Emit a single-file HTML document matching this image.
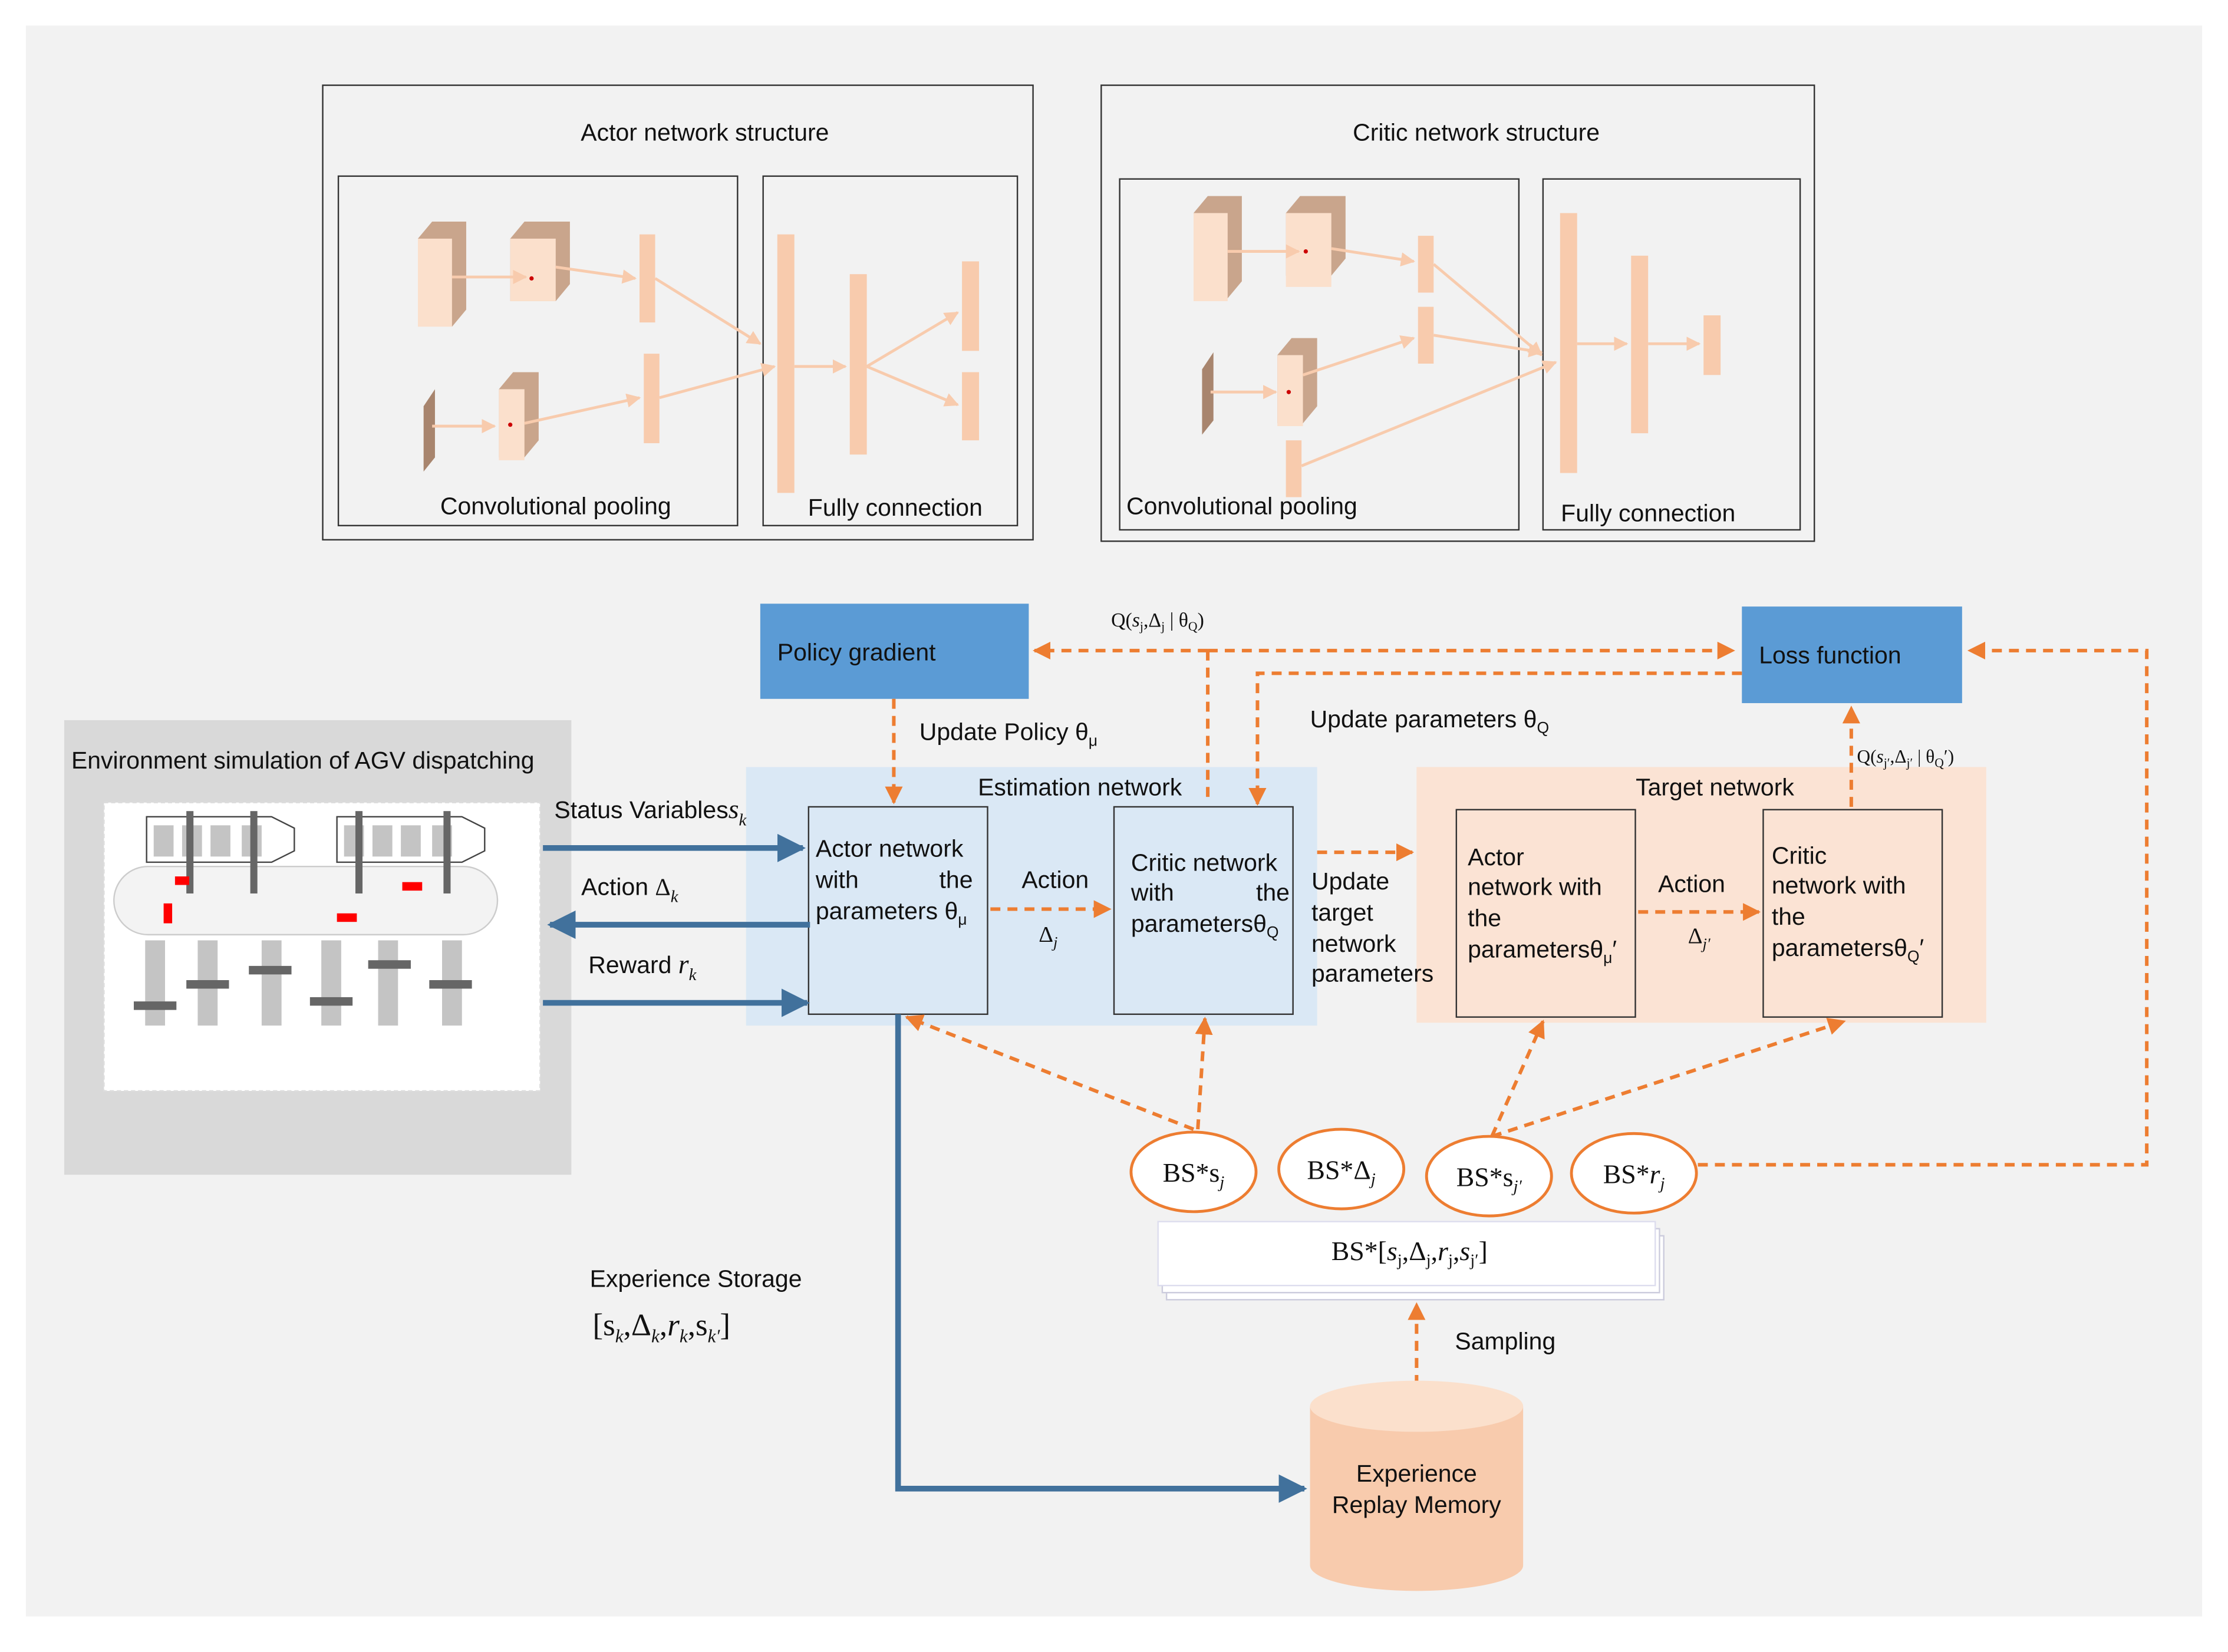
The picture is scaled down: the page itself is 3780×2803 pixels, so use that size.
<!DOCTYPE html>
<html><head><meta charset="utf-8"><style>
html,body{margin:0;padding:0;background:#fff;}
svg{display:block;}
text{font-family:"Liberation Sans",sans-serif;fill:#111;}
.s{font-family:"Liberation Serif",serif;}
</style></head><body>
<svg width="3780" height="2803" viewBox="0 0 1568 1163" xmlns="http://www.w3.org/2000/svg">
<defs>
<marker id="oa" viewBox="0 0 10 10" refX="9" refY="5" markerWidth="5" markerHeight="5" orient="auto"><path d="M0,0L10,5L0,10z" fill="#ed7d31"/></marker>
<marker id="ba" viewBox="0 0 10 10" refX="9" refY="5" markerWidth="5" markerHeight="5" orient="auto"><path d="M0,0L10,5L0,10z" fill="#41719c"/></marker>
<marker id="pa" viewBox="0 0 10 10" refX="9" refY="5" markerWidth="5" markerHeight="5" orient="auto"><path d="M0,0L10,5L0,10z" fill="#f8cbad"/></marker>
</defs>
<rect x="0" y="0" width="1568" height="1163" fill="#fff"/>
<rect x="18" y="18" width="1532" height="1120" fill="#f2f2f2"/>

<g fill="none" stroke="#333" stroke-width="1">
<rect x="227" y="60" width="500" height="320"/>
<rect x="238" y="124" width="281" height="246"/>
<rect x="537" y="124" width="179" height="246"/>
<rect x="775" y="60" width="502" height="321"/>
<rect x="788" y="126" width="281" height="247"/>
<rect x="1086" y="126" width="181" height="247"/>
</g>
<text x="496" y="99" font-size="17" text-anchor="middle">Actor network structure</text>
<text x="1039" y="99" font-size="17" text-anchor="middle">Critic network structure</text>
<text x="391" y="362" font-size="17" text-anchor="middle">Convolutional pooling</text>
<text x="630" y="363" font-size="17" text-anchor="middle">Fully connection</text>
<text x="874" y="362" font-size="17" text-anchor="middle">Convolutional pooling</text>
<text x="1160" y="367" font-size="17" text-anchor="middle">Fully connection</text>

<g fill="#fbe0cc">
<path d="M294,168 l10,-12 h24 v62 l-10,12z" fill="#c9a58c"/><rect x="294" y="168" width="24" height="62"/>
<path d="M359,168 l10,-12 h32 v44 l-10,12 h-32z" fill="#c9a58c"/><rect x="359" y="168" width="32" height="44"/>
<rect x="450" y="165" width="11" height="62" fill="#f8cbad"/>
<path d="M298,286 l8,-12 v48 l-8,10z" fill="#a8856e"/>
<path d="M351,274 l10,-12 h18 v48 l-10,12 h-18z" fill="#c9a58c"/><rect x="351" y="274" width="18" height="50"/>
<rect x="453" y="249" width="11" height="63" fill="#f8cbad"/>
<rect x="547" y="165" width="12" height="182" fill="#f8cbad"/>
<rect x="598" y="193" width="12" height="127" fill="#f8cbad"/>
<rect x="677" y="184" width="12" height="63" fill="#f8cbad"/>
<rect x="677" y="262" width="12" height="48" fill="#f8cbad"/>
</g>
<g stroke="#f8cbad" stroke-width="2" fill="none" marker-end="url(#pa)">
<line x1="318" y1="195" x2="370" y2="195"/><line x1="391" y1="188" x2="447" y2="196"/>
<line x1="461" y1="196" x2="535" y2="242"/><line x1="304" y1="300" x2="348" y2="300"/>
<line x1="369" y1="298" x2="450" y2="280"/><line x1="464" y1="280" x2="545" y2="258"/>
<line x1="559" y1="258" x2="595" y2="258"/><line x1="610" y1="258" x2="674" y2="220"/><line x1="610" y1="258" x2="674" y2="285"/>
</g>
<circle cx="374" cy="196" r="1.5" fill="#c00"/><circle cx="359" cy="299" r="1.5" fill="#c00"/>

<g fill="#fbe0cc">
<path d="M840,150 l10,-12 h24 v60 l-10,12z" fill="#c9a58c"/><rect x="840" y="150" width="24" height="62"/>
<path d="M905,150 l10,-12 h32 v44 l-10,12 h-32z" fill="#c9a58c"/><rect x="905" y="150" width="32" height="52"/>
<rect x="998" y="166" width="11" height="40" fill="#f8cbad"/>
<rect x="998" y="216" width="11" height="40" fill="#f8cbad"/>
<path d="M846,260 l8,-12 v48 l-8,10z" fill="#a8856e"/>
<path d="M899,250 l10,-12 h18 v48 l-10,12 h-18z" fill="#c9a58c"/><rect x="899" y="250" width="18" height="50"/>
<rect x="905" y="310" width="11" height="40" fill="#f8cbad"/>
<rect x="1098" y="150" width="12" height="183" fill="#f8cbad"/>
<rect x="1148" y="180" width="12" height="125" fill="#f8cbad"/>
<rect x="1199" y="222" width="12" height="42" fill="#f8cbad"/>
</g>
<g stroke="#f8cbad" stroke-width="2" fill="none" marker-end="url(#pa)">
<line x1="864" y1="177" x2="914" y2="177"/><line x1="937" y1="175" x2="995" y2="184"/>
<line x1="1009" y1="186" x2="1085" y2="250"/><line x1="1009" y1="236" x2="1085" y2="248"/>
<line x1="852" y1="276" x2="898" y2="276"/><line x1="917" y1="264" x2="995" y2="238"/>
<line x1="916" y1="328" x2="1095" y2="255"/>
<line x1="1110" y1="242" x2="1145" y2="242"/><line x1="1160" y1="242" x2="1196" y2="242"/>
</g>
<circle cx="919" cy="177" r="1.5" fill="#c00"/><circle cx="907" cy="276" r="1.5" fill="#c00"/>

<rect x="45" y="507" width="357" height="320" fill="#d9d9d9"/>
<text x="50" y="541" font-size="17">Environment simulation  of AGV dispatching</text>
<rect x="73" y="565" width="307" height="203" fill="#fff" stroke="#ddd" stroke-dasharray="3,2"/>
<rect x="80" y="610" width="270" height="48" rx="24" fill="#f3f3f3" stroke="#ccc"/>
<g fill="#fff" stroke="#444">
<path d="M103,575 h88 l16,8 v16 l-16,8 h-88z"/><path d="M237,575 h88 l16,8 v16 l-16,8 h-88z"/>
</g>
<g fill="#c4c4c4">
<rect x="108" y="581" width="14" height="22"/><rect x="128" y="581" width="14" height="22"/><rect x="148" y="581" width="14" height="22"/><rect x="170" y="581" width="14" height="22"/>
<rect x="242" y="581" width="14" height="22"/><rect x="262" y="581" width="14" height="22"/><rect x="282" y="581" width="14" height="22"/><rect x="304" y="581" width="14" height="22"/>
<rect x="102" y="662" width="14" height="60"/><rect x="139" y="662" width="14" height="60"/><rect x="184" y="662" width="14" height="60"/><rect x="226" y="662" width="14" height="60"/><rect x="266" y="662" width="14" height="60"/><rect x="311" y="662" width="14" height="60"/>
</g>
<g fill="#666">
<rect x="131" y="571" width="5" height="58"/><rect x="176" y="571" width="5" height="58"/><rect x="250" y="571" width="5" height="58"/><rect x="312" y="571" width="5" height="58"/>
<rect x="94" y="705" width="30" height="6"/><rect x="131" y="690" width="30" height="6"/><rect x="175" y="680" width="30" height="6"/><rect x="218" y="702" width="30" height="6"/><rect x="259" y="676" width="30" height="6"/><rect x="302" y="690" width="30" height="6"/>
</g>
<g fill="#f00"><rect x="123" y="617" width="10" height="6"/><rect x="115" y="636" width="6" height="14"/><rect x="237" y="643" width="14" height="6"/><rect x="283" y="621" width="14" height="6"/></g>

<rect x="525" y="540" width="402" height="182" fill="#dae8f5"/>
<rect x="997" y="540" width="401" height="180" fill="#fbe3d4"/>
<text x="760" y="560" font-size="17" text-anchor="middle">Estimation network</text>
<text x="1207" y="560" font-size="17" text-anchor="middle">Target network</text>
<g fill="none" stroke="#333">
<rect x="569" y="568" width="126" height="146"/><rect x="784" y="568" width="126" height="146"/>
<rect x="1025" y="570" width="126" height="146"/><rect x="1241" y="570" width="126" height="146"/>
</g>
<text font-size="17"><tspan x="574" y="603">Actor network</tspan><tspan x="574" y="625">with</tspan><tspan x="661" y="625">the</tspan><tspan x="574" y="647">parameters θ</tspan><tspan font-size="11" dy="4">μ</tspan></text>
<text font-size="17"><tspan x="796" y="613">Critic  network</tspan><tspan x="796" y="634">with</tspan><tspan x="884" y="634">the</tspan><tspan x="796" y="656">parametersθ</tspan><tspan font-size="11" dy="4">Q</tspan></text>
<text font-size="17"><tspan x="1033" y="609">Actor</tspan><tspan x="1033" y="630">network  with</tspan><tspan x="1033" y="652">the</tspan><tspan x="1033" y="674">parametersθ</tspan><tspan font-size="11" dy="4">μ</tspan><tspan dy="-4">′</tspan></text>
<text font-size="17"><tspan x="1247" y="608">Critic</tspan><tspan x="1247" y="629">network  with</tspan><tspan x="1247" y="651">the</tspan><tspan x="1247" y="673">parametersθ</tspan><tspan font-size="11" dy="4">Q</tspan><tspan dy="-4">′</tspan></text>
<text x="719" y="625" font-size="17">Action</text><text x="731" y="663" font-size="16" class="s">Δ<tspan font-size="11" dy="4" font-style="italic">j</tspan></text>
<text x="1167" y="628" font-size="17">Action</text><text x="1188" y="664" font-size="16" class="s">Δ<tspan font-size="11" dy="4" font-style="italic">j′</tspan></text>
<text font-size="17"><tspan x="923" y="626">Update</tspan><tspan x="923" y="648">target</tspan><tspan x="923" y="670">network</tspan><tspan x="923" y="691">parameters</tspan></text>

<rect x="535" y="425" width="189" height="67" fill="#5b9bd5"/>
<text x="547" y="465" font-size="17">Policy gradient</text>
<rect x="1226" y="427" width="155" height="68" fill="#5b9bd5"/>
<text x="1238" y="467" font-size="17">Loss function</text>

<g stroke="#41719c" stroke-width="4" fill="none" marker-end="url(#ba)">
<line x1="382" y1="597" x2="565" y2="597"/>
<line x1="570" y1="651" x2="387" y2="651"/>
<line x1="382" y1="706" x2="568" y2="706"/>
<polyline points="632,714 632,1048 918,1048"/>
</g>
<text x="390" y="576" font-size="17">Status Variables<tspan class="s" font-style="italic" font-size="19">s</tspan><tspan class="s" font-style="italic" font-size="12" dy="5">k</tspan></text>
<text x="409" y="630" font-size="17">Action <tspan class="s">Δ</tspan><tspan class="s" font-style="italic" font-size="12" dy="5">k</tspan></text>
<text x="414" y="685" font-size="17">Reward <tspan class="s" font-style="italic" font-size="19">r</tspan><tspan class="s" font-style="italic" font-size="12" dy="5">k</tspan></text>

<g stroke="#ed7d31" stroke-width="2.5" fill="none" stroke-dasharray="7,5" marker-end="url(#oa)">
<line x1="629" y1="492" x2="629" y2="565"/>
<line x1="850" y1="458" x2="728" y2="458"/>
<line x1="850" y1="458" x2="1220" y2="458"/>
<polyline points="1226,474 885,474 885,566"/>
<line x1="697" y1="640" x2="781" y2="640"/>
<line x1="927" y1="600" x2="994" y2="600"/>
<line x1="1153" y1="642" x2="1238" y2="642"/>
<line x1="1303" y1="568" x2="1303" y2="498"/>
<polyline points="1195,820 1511,820 1511,458 1386,458"/>
<line x1="840" y1="795" x2="638" y2="716"/>
<line x1="843" y1="795" x2="848" y2="717"/>
<line x1="1050" y1="800" x2="1086" y2="719"/>
<line x1="1050" y1="800" x2="1298" y2="719"/>
<line x1="997" y1="975" x2="997" y2="918"/>
</g>
<line x1="850" y1="458" x2="850" y2="566" stroke="#ed7d31" stroke-width="2.5" stroke-dasharray="7,5"/>
<text x="782" y="441" font-size="14" class="s">Q(<tspan font-style="italic">s</tspan><tspan font-size="9" dy="3">j</tspan><tspan dy="-3">,Δ</tspan><tspan font-size="9" dy="3">j</tspan><tspan dy="-3"> | θ</tspan><tspan font-size="9" dy="3">Q</tspan><tspan dy="-3">)</tspan></text>
<text x="1307" y="537" font-size="13" class="s">Q(<tspan font-style="italic">s</tspan><tspan font-size="9" dy="3">j′</tspan><tspan dy="-3">,Δ</tspan><tspan font-size="9" dy="3">j′</tspan><tspan dy="-3"> | θ</tspan><tspan font-size="9" dy="3">Q</tspan><tspan dy="-3">′)</tspan></text>
<text x="647" y="521" font-size="17">Update Policy θ<tspan font-size="11" dy="4">μ</tspan></text>
<text x="922" y="512" font-size="17">Update parameters θ<tspan font-size="11" dy="4">Q</tspan></text>

<g fill="#fff" stroke="#ed7d31" stroke-width="2">
<ellipse cx="840" cy="825" rx="44" ry="28"/><ellipse cx="944" cy="823" rx="44" ry="28"/>
<ellipse cx="1048" cy="828" rx="44" ry="28"/><ellipse cx="1150" cy="826" rx="44" ry="28"/>
</g>
<g font-size="19" text-anchor="middle">
<text x="840" y="832" class="s">BS*s<tspan font-size="12" font-style="italic" dy="4">j</tspan></text>
<text x="944" y="830" class="s">BS*Δ<tspan font-size="12" font-style="italic" dy="4">j</tspan></text>
<text x="1048" y="835" class="s">BS*s<tspan font-size="12" font-style="italic" dy="4">j′</tspan></text>
<text x="1150" y="833" class="s">BS*<tspan font-style="italic">r</tspan><tspan font-size="12" font-style="italic" dy="4">j</tspan></text>
</g>
<rect x="821" y="870" width="350" height="45" fill="#fff" stroke="#ccd"/>
<rect x="818" y="865" width="350" height="45" fill="#fff" stroke="#ccd"/>
<rect x="815" y="860" width="350" height="45" fill="#fff" stroke="#dde"/>
<text x="992" y="887" font-size="19" class="s" text-anchor="middle">BS*[<tspan font-style="italic">s</tspan><tspan font-size="12" dy="4">j</tspan><tspan dy="-4">,Δ</tspan><tspan font-size="12" dy="4">j</tspan><tspan dy="-4">,</tspan><tspan font-style="italic">r</tspan><tspan font-size="12" dy="4">j</tspan><tspan dy="-4">,</tspan><tspan font-style="italic">s</tspan><tspan font-size="12" dy="4">j′</tspan><tspan dy="-4">]</tspan></text>
<text x="1024" y="950" font-size="17">Sampling</text>
<text x="415" y="906" font-size="17">Experience Storage</text>
<text x="417" y="940" font-size="22" class="s">[s<tspan font-size="13" font-style="italic" dy="5">k</tspan><tspan dy="-5">,Δ</tspan><tspan font-size="13" font-style="italic" dy="5">k</tspan><tspan dy="-5">,</tspan><tspan font-style="italic">r</tspan><tspan font-size="13" font-style="italic" dy="5">k</tspan><tspan dy="-5">,s</tspan><tspan font-size="13" font-style="italic" dy="5">k′</tspan><tspan dy="-5">]</tspan></text>

<path d="M922,990 v112 a75,18 0 0 0 150,0 v-112z" fill="#f8cbad"/>
<ellipse cx="997" cy="990" rx="75" ry="18" fill="#fbe0cc"/>
<text x="997" y="1043" font-size="17" text-anchor="middle">Experience</text>
<text x="997" y="1065" font-size="17" text-anchor="middle">Replay Memory</text>
</svg>
</body></html>
